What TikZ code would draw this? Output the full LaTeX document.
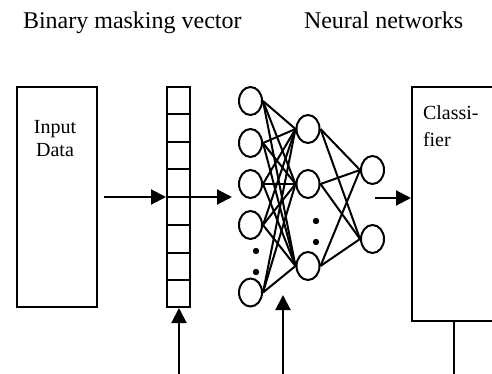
\documentclass[tikz,border=0pt]{standalone}
\usepackage{fontspec}
\setmainfont{Liberation Serif}
\usetikzlibrary{shapes.geometric,arrows.meta,positioning,calc}

\begin{document}
\begin{tikzpicture}[
    x=0.5pt, y=-0.5pt,
    line width=1pt,
    title/.style={font=\fontsize{12}{14.4}\selectfont, anchor=base west, inner sep=0pt},
    block/.style={rectangle, draw, inner sep=0pt},
    blocktext/.style={font=\fontsize{10}{#1}\selectfont, inner sep=0pt},
    neuron/.style={ellipse, draw, minimum width=11.5pt, minimum height=14pt, inner sep=0pt},
    arrow/.style={-{Triangle[length=7.5pt, width=7.5pt]}},
    dot/.style={circle, fill, inner sep=0pt, minimum size=3.2pt}
]
\useasboundingbox (0,0) rectangle (492,374);
\clip (0,0) rectangle (492,374);

% Titles
\node[title] (masktitle) at (22,29) {Binary masking vector};
\node[title] (nntitle) at (303,29) {Neural networks};

% Input data
\node[block, minimum width=40pt, minimum height=110pt] (input) at (57,197) {};
\node[blocktext=11.7pt, align=center, anchor=north] at ($(input.north)+(-2,33)$) {Input\\Data};

% Binary masking vector
\node[block, minimum width=11.5pt, minimum height=110pt] (mask) at (178.5,197) {};
\foreach \i in {1,...,7}
    \draw ($(mask.north west)!\i/8!(mask.south west)$) -- ($(mask.north east)!\i/8!(mask.south east)$);

% Neural network layers
\foreach \y [count=\i] in {101,143,184,225,292.5}
    \node[neuron] (a\i) at (250.5,\y) {};
\foreach \y [count=\i] in {129,184,266}
    \node[neuron] (b\i) at (308,\y) {};
\foreach \y [count=\i] in {170,239}
    \node[neuron] (c\i) at (372.5,\y) {};

\foreach \i in {1,...,5}
    \foreach \j in {1,2,3}
        \draw (a\i.east) -- (b\j.west);
\foreach \i in {1,2,3}
    \foreach \j in {1,2}
        \draw (b\i.east) -- (c\j.west);

% Omitted neurons
\node[dot] (adot1) at (256,251) {};
\node[dot] (adot2) at (256,272) {};
\node[dot] (bdot1) at (316,221) {};
\node[dot] (bdot2) at (316,242) {};

% Classifier
\node[block, minimum width=80pt, minimum height=117pt] (clf) at (492,204) {};
\node[blocktext=13.5pt, align=left, anchor=north west] at ($(clf.north west)+(11,18.5)$) {Classi-\\fier};

% Connectors
\coordinate (nnin) at (232,197);
\coordinate (nnout) at (375,198);
\coordinate (maskin) at (179,374);
\coordinate (netin) at (283,374);
\coordinate (nettip) at (283,295);
\coordinate (clfout) at (454,374);

\draw[arrow, shorten <=3pt] (input.east) -- (mask.west);
\draw[arrow] (mask.east) -- (nnin);
\draw[arrow] (nnout) -- (nnout -| clf.west);
\draw[arrow] (maskin) -- (maskin |- mask.south);
\draw[arrow] (netin) -- (nettip);
\draw (clfout |- clf.south) -- (clfout);

\end{tikzpicture}
\end{document}
